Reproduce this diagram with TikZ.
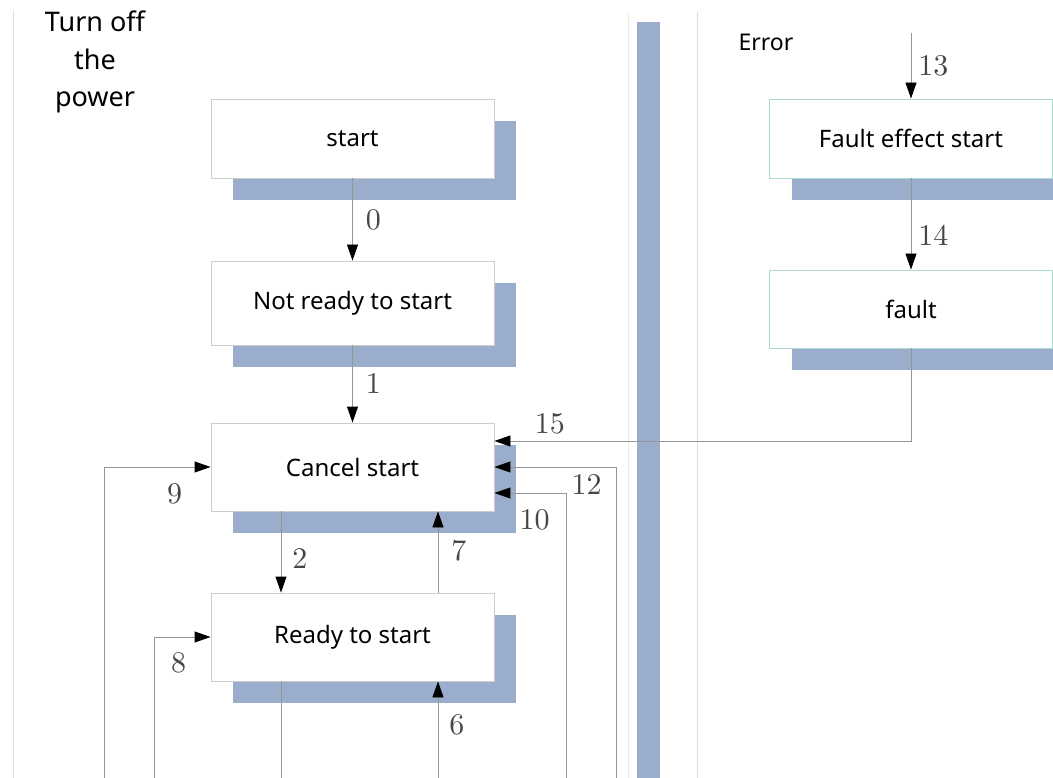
\documentclass[tikz,border=0pt]{standalone}
\usepackage{fontspec}
\setmainfont{Noto Sans}
\usepackage{tikz}
\usetikzlibrary{arrows.meta,shadows}
\definecolor{shadowblue}{RGB}{154,173,204}
\definecolor{framegray}{RGB}{205,205,205}
\definecolor{frameteal}{RGB}{172,218,208}
\definecolor{linegray}{RGB}{150,150,150}
\definecolor{numgray}{RGB}{70,70,70}
\tikzset{%
  state box/.style={
    rectangle,
    draw=framegray,
    fill=white,
    line width=0.9pt,
    minimum width=283pt,
    font=\fontsize{24}{28}\selectfont,
    drop shadow={shadow xshift=22pt, shadow yshift=-22pt, fill=shadowblue, opacity=1, draw=none}
  },
  error box/.style={
    state box,
    draw=frameteal
  },
  num/.style={
    inner sep=0pt,
    text=numgray,
    font=\fontsize{10}{12}\selectfont,
    scale=3
  },
  link/.style={
    draw=linegray,
    line width=0.9pt
  },
}

\begin{document}
\begin{tikzpicture}[x=1pt, y=-1pt, >={Triangle[length=16pt, width=11pt, color=black]}]

\useasboundingbox (0,0) rectangle (1053,778);

% lanes
\draw [framegray!60, line width=0.8pt] (13,10) -- (13,778);
\draw [framegray!40, line width=0.8pt] (628,12) -- (628,778);
\draw [framegray!70, line width=0.8pt] (697,12) -- (697,778);
\fill [shadowblue] (637,22) rectangle (660,778);

\node [align=center, font=\fontsize{27}{37.5}\selectfont] (off) at (95,62) {Turn off\\the\\power};
\node [font=\fontsize{23}{28}\selectfont] (err) at (766,42) {Error};

\foreach \n/\t/\y/\h in {start/start/138.5/79, notready/Not ready to start/303/84, cancel/Cancel start/467/88, ready/Ready to start/637/88}
  \node [state box, minimum height=\h pt] (\n) at (352.5,\y) {\t};

\foreach \n/\t/\y/\h in {effect/Fault effect start/138.5/79, fault/fault/309/78}
  \node [error box, minimum height=\h pt] (\n) at (911,\y) {\t};

% free ends
\coordinate (in13) at (911,33);
\coordinate (out) at (281,778);
\foreach \n/\x in {9/104, 8/154, 6/438, 10/566, 12/616}
  \coordinate (low\n) at (\x,778);

\draw [link, ->] (start) -- (notready)
  node [right=12pt, midway, num] {$0$};
\draw [link, ->] (notready) -- (cancel)
  node [right=12pt, midway, num] {$1$};
\draw [link, ->] ([xshift=-71.5pt]cancel.south) -- ([xshift=-71.5pt]ready.north)
  node [right=10pt, pos=0.58, num] {$2$};
\draw [link, ->] ([xshift=85.5pt]ready.north) -- ([xshift=85.5pt]cancel.south)
  node [right=12pt, pos=0.52, num] {$7$};
\draw [link, ->] (low6) -- ([xshift=85.5pt]ready.south)
  node [right=10pt, pos=0.55, num] {$6$};
\draw [link] ([xshift=-71.5pt]ready.south) -- (out);

\draw [link, ->] (low9) |- (cancel.west)
  node [anchor=north east, xshift=-27pt, yshift=-16pt, num] {$9$};
\draw [link, ->] (low8) |- (ready.west)
  node [anchor=north east, xshift=-23pt, yshift=-15pt, num] {$8$};
\draw [link, ->] (low12) |- (cancel.east)
  node [pos=0.5, anchor=north east, xshift=-13pt, yshift=-7pt, num] {$12$};
\draw [link, ->] (low10) |- ([yshift=-26pt]cancel.east)
  node [pos=0.5, anchor=north east, xshift=-15pt, yshift=-16pt, num] {$10$};
\draw [link, ->] (fault) |- ([yshift=26pt]cancel.east)
  node [anchor=south west, xshift=39pt, yshift=6pt, num] {$15$};

\draw [link, ->] (in13) -- (effect)
  node [right=6pt, midway, num] {$13$};
\draw [link, ->] (effect) -- (fault)
  node [right=6pt, pos=0.63, num] {$14$};

\end{tikzpicture}
\end{document}
